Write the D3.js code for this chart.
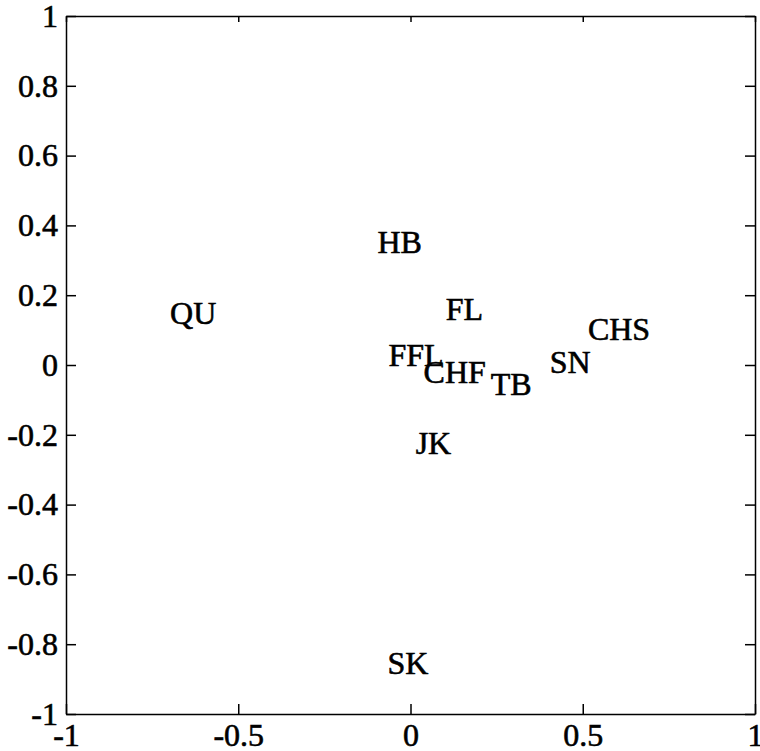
<!DOCTYPE html>
<html>
<head>
<meta charset="utf-8">
<script src="https://cdn.jsdelivr.net/npm/d3@7"></script>
<style>
	body { margin: 0; background: white; }
	svg text { font-family: "Liberation Serif", "DejaVu Serif", serif; fill: black; stroke: black; stroke-width: 0.6px; }
	.domain, .tick line { stroke: black; stroke-width: 1.5; }
</style>
</head>
<body>
<svg id="chart" width="760" height="751"></svg>
<script>
// labels and their coordinates (x, y)
const labels = ["HB", "FL", "FFL", "CHF", "TB", "SN", "CHS", "QU", "JK", "SK"];
const xVals = [-0.096, 0.102, -0.064, 0.038, 0.233, 0.404, 0.515, -0.698, 0.015, -0.067];
const yVals = [0.352, 0.16, 0.026, -0.02, -0.057, 0.006, 0.103, 0.149, -0.226, -0.854];

const xTicks = [-1, -0.5, 0, 0.5, 1];
const yTicks = [-1, -0.8, -0.6, -0.4, -0.2, 0, 0.2, 0.4, 0.6, 0.8, 1];

const LEFT = 66, RIGHT = 755, TOP = 16, BOTTOM = 714;
const FONT_SIZE = 32;

let svg = d3.select("svg#chart");

let x = d3.scaleLinear().domain([-1, 1]).range([LEFT, RIGHT]);
let y = d3.scaleLinear().domain([-1, 1]).range([BOTTOM, TOP]);

// MATLAB style numbers: "-0.5", "0.8"
let fmt = d => d < 0 ? "-" + Math.abs(d) : String(d);

// bottom axis with labels
svg.append("g")
	.attr("class", "labelled")
	.attr("transform", "translate(0," + BOTTOM + ")")
	.call(d3.axisBottom(x).tickValues(xTicks).tickFormat(fmt).tickSizeInner(-10).tickSizeOuter(0).tickPadding(9))
	;

// left axis with labels
svg.append("g")
	.attr("class", "labelled")
	.attr("transform", "translate(" + LEFT + ",0)")
	.call(d3.axisLeft(y).tickValues(yTicks).tickFormat(fmt).tickSizeInner(-10).tickSizeOuter(0).tickPadding(8))
	;

// top and right: ticks only
svg.append("g")
	.attr("transform", "translate(0," + TOP + ")")
	.call(d3.axisTop(x).tickValues(xTicks).tickFormat(() => "").tickSizeInner(-6).tickSizeOuter(0))
	;
svg.append("g")
	.attr("transform", "translate(" + RIGHT + ",0)")
	.call(d3.axisRight(y).tickValues(yTicks).tickFormat(() => "").tickSizeInner(-10).tickSizeOuter(0))
	;

svg.selectAll(".labelled .tick text")
	.style("font-size", FONT_SIZE + "px")
	.style("font-family", '"Liberation Serif", serif')
	;

// point labels, left aligned, vertically centred on the point
svg.append("g")
	.selectAll("text")
	.data(labels)
	.join("text")
	.text(d => d)
	.attr("x", (d, i) => x(xVals[i]))
	.attr("y", (d, i) => y(yVals[i]))
	.attr("dy", "0.33em")
	.attr("text-anchor", "start")
	.style("font-size", FONT_SIZE + "px")
	;
</script>
</body>
</html>
